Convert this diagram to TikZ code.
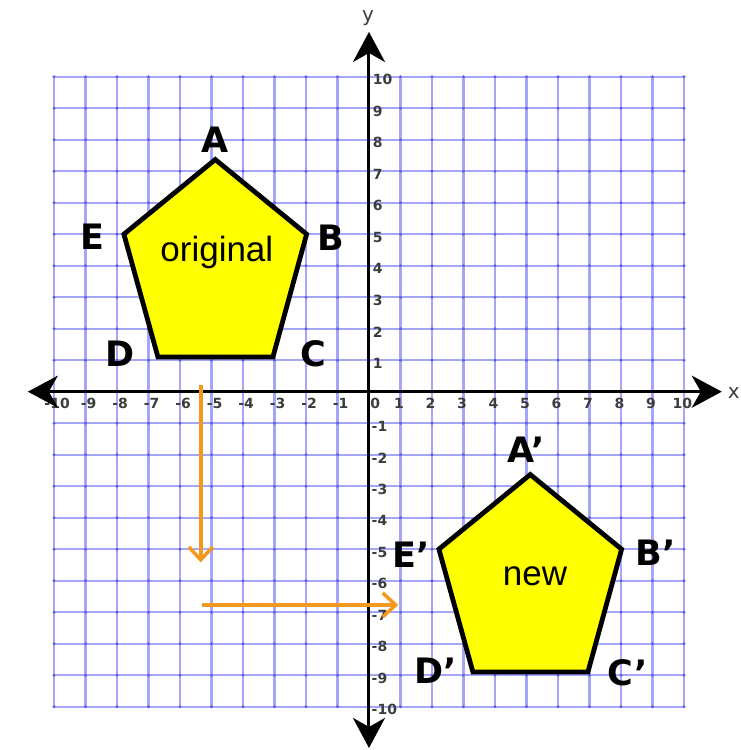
\documentclass[tikz,border=0pt]{standalone}
\usepackage{fontspec}
\setmainfont{Liberation Sans}
\newfontfamily\lblfont{DejaVu Sans}
\usetikzlibrary{arrows.meta}
\definecolor{gridblue}{RGB}{165,165,250}
\definecolor{dotblue}{RGB}{95,95,225}
\definecolor{arrorange}{RGB}{243,154,30}
\definecolor{ticktext}{RGB}{60,60,60}
\definecolor{polyfill}{RGB}{255,255,0}
\begin{document}
\begin{tikzpicture}[x=31.5pt,y=31.5pt,
  gridline/.style={draw=gridblue, line width=2.3pt},
  axisline/.style={draw=black, line width=3pt,
    {Stealth[length=30pt,width=32pt,inset=9pt]}-{Stealth[length=30pt,width=32pt,inset=9pt]}},
  poly/.style={fill=polyfill, draw=black, line width=4.8pt, line join=miter},
  vlabel/.style={font=\lblfont\bfseries\fontsize{35}{35}\selectfont, text=black, inner sep=0pt},
  ptext/.style={font=\fontsize{35}{35}\selectfont, text=black, inner sep=0pt},
  ticklabel/.style={font=\lblfont\bfseries\fontsize{14}{14}\selectfont, text=ticktext, inner sep=0pt},
  axlabel/.style={font=\lblfont\fontsize{20}{20}\selectfont, text=ticktext, inner sep=0pt},
  movearrow/.style={draw=arrorange, line width=3.5pt,
    -{Straight Barb[length=13pt,width=24pt,line width=3.5pt]}}
]
\useasboundingbox (-11.714,-11.375) rectangle (11.81,12.435);

% grid
\foreach \i in {-10,...,10} {
  \draw[gridline] (\i,-10) -- (\i,10);
  \draw[gridline] (-10,\i) -- (10,\i);
}
\foreach \i in {-10,...,10} {
  \foreach \j in {-10,...,10} {
    \fill[dotblue] (\i,\j) circle (1.6pt);
  }
}

% tick labels
\foreach \i in {-10,...,-1} {
  \node[ticklabel] (xt\i) at (\i+0.1,-0.38) {\i};
}
\foreach \i in {1,...,10} {
  \node[ticklabel] (xt\i) at (\i-0.05,-0.38) {\i};
}
\node[ticklabel] (xt0) at (0.2,-0.38) {0};
\foreach \j in {1,...,10} {
  \node[ticklabel, anchor=west] (yt\j) at (0.12,\j-0.1) {\j};
}
\foreach \j in {-10,...,-1} {
  \node[ticklabel, anchor=west] (yt\j) at (0.08,\j-0.1) {\j};
}

% axes
\coordinate (xl) at (-10.83,0);
\coordinate (xr) at (11.2,0);
\coordinate (yb) at (0,-11.31);
\coordinate (yt) at (0,11.42);
\draw[axisline] (xl) -- (xr);
\draw[axisline] (yb) -- (yt);
\node[axlabel] (xname) at (11.58,-0.05) {x};
\node[axlabel] (yname) at (-0.03,11.85) {y};

% original pentagon
\coordinate (A) at (-4.88,7.37);
\coordinate (B) at (-1.98,5.0);
\coordinate (C) at (-3.05,1.1);
\coordinate (D) at (-6.7,1.1);
\coordinate (E) at (-7.78,5.0);
\draw[poly] (A) -- (B) -- (C) -- (D) -- (E) -- cycle;
\node[ptext] (orig) at (-4.83,4.42) {original};

% new pentagon
\coordinate (A2) at (5.12,-2.63);
\coordinate (B2) at (8.02,-5.0);
\coordinate (C2) at (6.95,-8.9);
\coordinate (D2) at (3.3,-8.9);
\coordinate (E2) at (2.22,-5.0);
\draw[poly] (A2) -- (B2) -- (C2) -- (D2) -- (E2) -- cycle;
\node[ptext] (newt) at (5.27,-5.87) {new};

% vertex labels
\node[vlabel] (lA) at (-4.89,7.99) {A};
\node[vlabel] (lB) at (-1.21,4.88) {B};
\node[vlabel] (lC) at (-1.78,1.2) {C};
\node[vlabel] (lD) at (-7.9,1.2) {D};
\node[vlabel] (lE) at (-8.79,4.91) {E};
\node[vlabel] (lA2) at (5.0,-1.85) {A’};
\node[vlabel] (lB2) at (9.1,-5.12) {B’};
\node[vlabel] (lC2) at (8.2,-8.93) {C’};
\node[vlabel] (lD2) at (2.12,-8.87) {D’};
\node[vlabel] (lE2) at (1.35,-5.18) {E’};

% translation arrows
\coordinate (v1) at (-5.34,0.2);
\coordinate (v2) at (-5.34,-5.42);
\coordinate (h1) at (-5.31,-6.77);
\coordinate (h2) at (0.93,-6.77);
\draw[movearrow] (v1) -- (v2);
\draw[movearrow] (h1) -- (h2);
\end{tikzpicture}
\end{document}
